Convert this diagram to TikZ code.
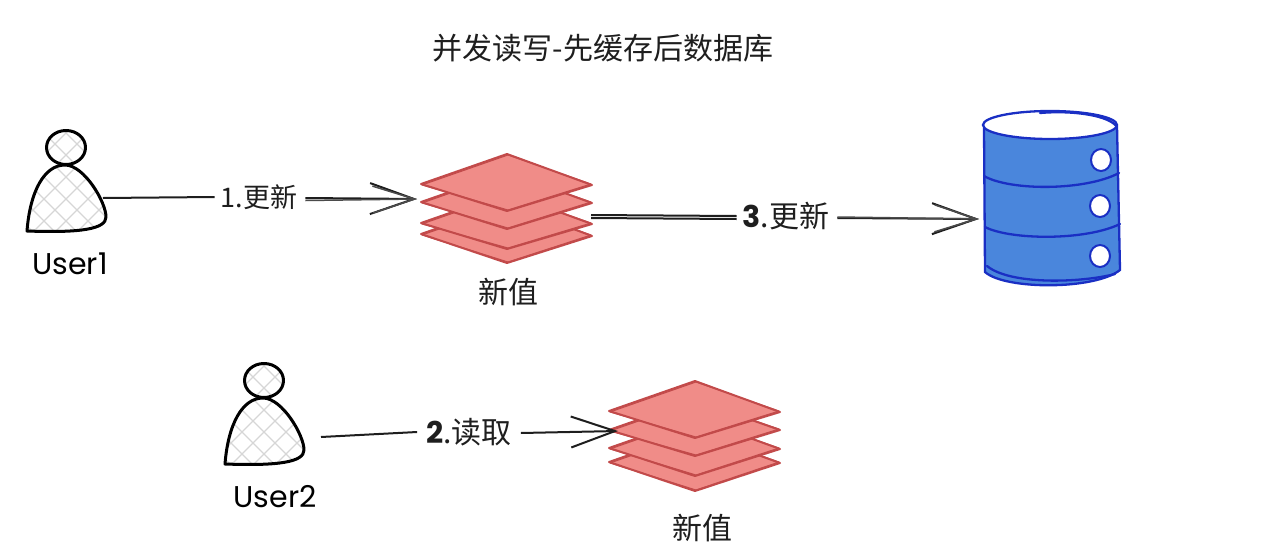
\documentclass[tikz,border=0pt]{standalone}
\usepackage{fontspec}
\setmainfont{Noto Sans CJK SC}
\newfontfamily\handfont{Poppins}
\usetikzlibrary{arrows.meta}
\definecolor{inkc}{HTML}{1E1E1E}
\definecolor{stackfill}{HTML}{F08C88}
\definecolor{stackline}{HTML}{C24A4A}
\definecolor{dbfill}{HTML}{4A86DC}
\definecolor{dbline}{HTML}{1A2FC4}
\definecolor{hatchc}{HTML}{D6D6D6}
\newcommand{\stacklayer}[3]{% left-y, right-y, bottom-y (top is 30 above left)
  \path[layerbox] (-86,#1) -- (0,#1-30) -- (85,#2) -- (0,#3) -- cycle;
  \draw[layerstroke] (-85,#1+1) -- (1,#1-29) -- (84,#2-1) -- (1,#3-1) -- cycle;
}
\newcommand{\personhatch}{%
  \foreach \i in {-132,-110,...,132}{
    \draw[hatchline] (\i-60,-50) -- (\i+60,70);
    \draw[hatchline] (\i+60,-50) -- (\i-60,70);
  }%
}
\tikzset{
  x=1pt,y=-1pt,
  personline/.style={draw=black,line width=3pt,line join=round},
  hatchline/.style={draw=hatchc,line width=1.2pt},
  layerbox/.style={fill=stackfill,draw=stackline,line width=2pt,line join=round},
  layerstroke/.style={draw=stackline,line width=1pt,line join=round},
  dbedge/.style={draw=dbline,line width=2.3pt,line cap=round},
  flow/.style={draw=inkc,line width=2pt},
  flowtip/.style={draw=inkc,line width=2pt,-{Straight Barb[length=44pt,width=31pt,line width=2pt]}},
  flowtiptwo/.style={draw=inkc!80,line width=1.5pt,-{Straight Barb[length=42pt,width=27pt,line width=1.5pt]}},
  stepLabel/.style={text=inkc,font=\fontsize{30}{32}\selectfont,inner sep=0pt},
  smallStep/.style={text=inkc,font=\fontsize{27}{30}\selectfont,inner sep=0pt},
  titleLabel/.style={text=inkc,font=\fontsize{30}{32}\selectfont,inner sep=0pt},
  handLabel/.style={text=black,font=\handfont\fontsize{30}{32}\selectfont,inner sep=0pt},
  person/.pic={
    \begin{scope}
      \clip (0,-19.5) ellipse (19.5 and 17);
      \personhatch
    \end{scope}
    \begin{scope}
      \clip (-39,64) .. controls (-36,25) and (-22,-2) .. (-1,-2) .. controls (18,-2) and (40,35) .. (40,50) .. controls (40,62) and (15,66) .. (-39,64) -- cycle;
      \personhatch
    \end{scope}
    \draw[personline] (0,-19.5) ellipse (19.5 and 17);
    \draw[personline] (-39,64) .. controls (-36,25) and (-22,-2) .. (-1,-2) .. controls (18,-2) and (40,35) .. (40,50) .. controls (40,62) and (15,66) .. (-39,64) -- cycle;
  },
  stackA/.pic={
    \stacklayer{80}{82}{109}
    \stacklayer{69}{70}{95}
    \stacklayer{48}{49}{75}
    \stacklayer{30}{31}{57}
  },
  stackB/.pic={
    \stacklayer{79}{80}{108}
    \stacklayer{65}{66}{93}
    \stacklayer{47}{47}{73}
    \stacklayer{28}{29}{55}
  }
}
\begin{document}
\begin{tikzpicture}
\useasboundingbox (0,0) rectangle (1280,549);
\node[titleLabel] (title) at (603,48) {并发读写-先缓存后数据库};

% people
\pic at (66,167) {person};
\pic at (264,400) {person};
\node[handLabel] (userA) at (70,264) {User1};
\node[handLabel] (userB) at (275,497) {User2};
\coordinate (userAout) at (103,198);
\coordinate (userBout) at (321,437);

% stacks
\pic at (507,154) {stackA};
\pic at (695,383) {stackB};
\node[stepLabel] (valA) at (508,292) {新值};
\node[stepLabel] (valB) at (702,528) {新值};
\coordinate (stackAin) at (417,199);
\coordinate (stackAout) at (591,215);
\coordinate (stackBin) at (618,431);

% database
\fill[dbfill] (984,125) -- (1117,125) -- (1120,270) .. controls (1095,290) and (1005,290) .. (985,272) -- cycle;
\fill[white] (1050,125) ellipse (66 and 14);
\draw[dbedge] (1050,125) ellipse (67 and 14);
\draw[dbedge] (1040,113) .. controls (1075,110) and (1110,116) .. (1117,127);
\draw[dbedge] (984,128) -- (985,272) .. controls (1005,290) and (1095,290) .. (1120,270) -- (1117,126);
\draw[dbedge] (987,266) .. controls (1010,285) and (1080,283) .. (1115,274);
\draw[dbedge] (984,176) .. controls (1010,191) and (1085,191) .. (1119,173);
\draw[dbedge] (985,227) .. controls (1010,240) and (1085,241) .. (1120,224);
\foreach \cx/\cy in {1101/160,1100/206,1100/256}{
  \draw[dbline,line width=2pt,fill=white] (\cx,\cy) ellipse (10 and 11);
}
\coordinate (dbin) at (979,219);

% connectors
\node[smallStep] (stepA) at (259,197) {1.更新};
\node[stepLabel] (stepC) at (786,216) {{\handfont\bfseries 3}.更新};
\node[stepLabel] (stepB) at (469,432) {{\handfont\bfseries 2}.读取};
\draw[flow] (userAout) -- ([xshift=-6pt]stepA.west);
\draw[flowtip] ([xshift=8pt,yshift=-1pt]stepA.east) -- (stackAin);
\draw[flowtiptwo] ([xshift=8pt,yshift=-3.5pt]stepA.east) -- (stackAin);
\draw[flow] ([yshift=-3pt]stackAout) -- ([xshift=-6pt,yshift=-3pt]stepC.west);
\draw[flow] (stackAout) -- ([xshift=-6pt]stepC.west);
\draw[flowtip] ([xshift=8pt,yshift=-2pt]stepC.east) -- (dbin);
\draw[flowtiptwo] ([xshift=8pt,yshift=-1pt]stepC.east) -- (dbin);
\draw[flow] (userBout) -- ([xshift=-9pt]stepB.west);
\draw[flowtip] ([xshift=9pt,yshift=-1pt]stepB.east) -- (stackBin);
\end{tikzpicture}
\end{document}
